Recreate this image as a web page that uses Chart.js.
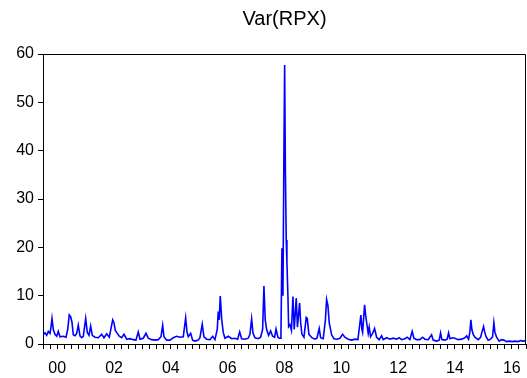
<!DOCTYPE html>
<html>
<head>
<meta charset="utf-8">
<script src="https://cdn.jsdelivr.net/npm/chart.js@4.4.1/dist/chart.umd.min.js"></script>
<style>
  html, body { margin: 0; padding: 0; background: #fff; }
  #wrap { width: 527px; height: 378px; position: relative; }
</style>
</head>
<body>
<div id="wrap"><canvas id="c" width="527" height="378"></canvas></div>
<script>
const chartTitle = "Var(RPX)";
const yTicks = [0, 10, 20, 30, 40, 50, 60];
const xTickLabels = ["00", "02", "04", "06", "08", "10", "12", "14", "16"];

// observation times in fractional years since 2000
const times = [
  0.011, 0.070, 0.130, 0.186, 0.246, 0.281, 0.317, 0.362, 0.422, 0.482,
  0.538, 0.598, 0.714, 0.809, 0.869, 0.925, 0.975, 1.020, 1.066, 1.126,
  1.186, 1.242, 1.302, 1.362, 1.418, 1.502, 1.559, 1.619, 1.678, 1.735,
  1.830, 1.946, 2.065, 2.146, 2.241, 2.333, 2.403, 2.452, 2.498, 2.544,
  2.614, 2.685, 2.769, 2.850, 2.945, 3.061, 3.177, 3.272, 3.353, 3.413,
  3.529, 3.624, 3.705, 3.825, 3.941, 4.057, 4.152, 4.212, 4.257, 4.352,
  4.469, 4.585, 4.704, 4.820, 4.937, 5.021, 5.067, 5.113, 5.197, 5.267,
  5.348, 5.464, 5.524, 5.605, 5.665, 5.760, 5.876, 5.971, 6.052, 6.133,
  6.168, 6.203, 6.239, 6.288, 6.344, 6.404, 6.520, 6.640, 6.756, 6.851,
  6.921, 6.992, 7.108, 7.224, 7.284, 7.343, 7.389, 7.459, 7.576, 7.660,
  7.730, 7.776, 7.822, 7.871, 7.942, 8.012, 8.082, 8.153, 8.202, 8.269,
  8.315, 8.374, 8.409, 8.445, 8.480, 8.505, 8.533, 8.561, 8.585, 8.621,
  8.645, 8.691, 8.744, 8.797, 8.842, 8.913, 8.955, 9.032, 9.067, 9.113,
  9.184, 9.265, 9.300, 9.359, 9.465, 9.571, 9.641, 9.722, 9.771, 9.863,
  9.940, 9.982, 10.028, 10.074, 10.158, 10.239, 10.345, 10.450, 10.545, 10.626,
  10.742, 10.862, 10.978, 11.084, 11.189, 11.224, 11.249, 11.319, 11.355, 11.390,
  11.446, 11.481, 11.530, 11.601, 11.671, 11.742, 11.833, 11.918, 11.974, 12.094,
  12.210, 12.326, 12.445, 12.537, 12.621, 12.737, 12.818, 12.913, 12.994, 13.054,
  13.149, 13.265, 13.360, 13.441, 13.557, 13.677, 13.733, 13.853, 13.944, 13.994,
  14.039, 14.145, 14.226, 14.275, 14.321, 14.416, 14.497, 14.613, 14.733, 14.849,
  14.909, 14.979, 15.025, 15.060, 15.095, 15.141, 15.201, 15.317, 15.401, 15.447,
  15.507, 15.542, 15.588, 15.669, 15.753, 15.823, 15.869, 15.904, 15.964, 16.055,
  16.140, 16.221, 16.316, 16.407, 16.527, 16.608, 16.724, 16.808, 16.900, 16.984
];

const variance = [
  1.9, 2.3, 1.8, 2.6, 2.2, 3.5, 5.3, 3.0, 2.0, 1.6,
  2.6, 1.5, 1.6, 1.4, 3.0, 6.0, 5.6, 4.5, 1.9, 1.7,
  2.2, 3.9, 1.7, 1.3, 1.6, 5.3, 2.4, 1.8, 3.7, 1.8,
  1.4, 1.3, 2.0, 1.3, 2.1, 1.4, 3.5, 5.0, 4.4, 2.8,
  2.2, 1.6, 1.3, 2.0, 1.0, 1.1, 0.9, 0.8, 2.5, 1.0,
  1.2, 2.2, 1.2, 0.9, 0.8, 0.9, 1.5, 3.9, 1.5, 0.8,
  0.8, 1.3, 1.6, 1.4, 1.5, 5.4, 2.5, 1.5, 2.2, 0.8,
  0.6, 0.8, 1.3, 4.1, 1.5, 1.0, 0.9, 1.6, 0.9, 3.0,
  6.7, 5.0, 9.9, 5.2, 2.4, 1.2, 1.6, 1.1, 1.2, 1.0,
  2.5, 1.1, 1.0, 1.2, 2.0, 5.2, 2.3, 1.3, 1.1, 1.4,
  3.0, 12.0, 5.0, 3.0, 1.8, 2.7, 1.6, 1.4, 3.1, 1.4,
  1.2, 1.2, 19.8, 10.0, 40.0, 57.7, 35.0, 21.5, 17.0, 9.8,
  3.6, 4.0, 2.8, 9.8, 3.0, 9.5, 3.5, 8.5, 4.5, 2.0,
  1.4, 5.5, 5.3, 2.0, 1.3, 1.0, 1.2, 3.2, 1.3, 1.1,
  5.0, 9.2, 8.0, 4.4, 1.9, 1.1, 1.0, 1.2, 2.0, 1.4,
  1.0, 0.8, 1.0, 0.9, 6.0, 3.0, 2.4, 8.1, 6.0, 4.5,
  2.2, 3.5, 1.5, 2.2, 3.2, 1.4, 0.9, 1.7, 0.9, 1.3,
  1.0, 1.2, 1.0, 1.3, 0.9, 1.1, 1.4, 0.9, 2.6, 1.2,
  0.9, 0.9, 1.4, 1.0, 0.9, 1.9, 0.8, 0.6, 0.8, 2.3,
  0.9, 0.8, 1.0, 2.3, 1.1, 1.3, 1.2, 0.9, 1.0, 1.3,
  1.7, 1.0, 2.5, 5.0, 3.0, 2.0, 1.4, 0.9, 1.4, 2.4,
  3.6, 2.6, 1.6, 0.8, 1.0, 1.5, 4.4, 2.5, 1.4, 0.6,
  0.9, 0.8, 0.5, 0.6, 0.5, 0.6, 0.5, 0.7, 0.6, 0.7
];

const startYear = 2000;
const endYear = 2017;

const frame = {
  id: 'frame',
  afterDraw(chart) {
    const { ctx, chartArea: a } = chart;
    ctx.save();
    ctx.strokeStyle = '#000';
    ctx.lineWidth = 1;
    ctx.beginPath();
    ctx.moveTo(a.left, a.top + 0.5);
    ctx.lineTo(a.right - 0.5, a.top + 0.5);
    ctx.lineTo(a.right - 0.5, a.bottom);
    ctx.stroke();
    ctx.restore();
  }
};

const titlePlugin = {
  id: 'ttl',
  afterDraw(chart) {
    const { ctx, chartArea: a } = chart;
    ctx.save();
    ctx.fillStyle = '#000';
    ctx.font = '20px "Liberation Sans", Arial, sans-serif';
    ctx.textAlign = 'center';
    ctx.textBaseline = 'alphabetic';
    ctx.fillText(chartTitle, (a.left + a.right) / 2, 25);
    ctx.restore();
  }
};

const pts = times.map((t, i) => ({ x: startYear + t, y: variance[i] }));

new Chart(document.getElementById('c'), {
  type: 'line',
  data: {
    datasets: [{
      data: pts,
      borderColor: '#0000FF',
      borderWidth: 1.6,
      pointRadius: 0,
      tension: 0,
      fill: false
    }]
  },
  options: {
    responsive: false,
    animation: false,
    events: [],
    layout: { padding: { left: 0, right: 1, top: 54, bottom: 0 } },
    plugins: { legend: { display: false }, tooltip: { enabled: false }, title: { display: false } },
    scales: {
      x: {
        type: 'linear',
        min: startYear,
        max: endYear,
        afterFit(s) { s.height = 34; s.paddingLeft = 0; s.paddingRight = 0; },
        afterBuildTicks(s) {
          const t = [];
          for (let q = startYear * 4; q <= endYear * 4; q++) t.push({ value: q / 4 });
          s.ticks = t;
        },
        ticks: {
          autoSkip: false,
          maxRotation: 0,
          padding: 10,
          color: '#000',
          font: { family: '"Liberation Sans", Arial, sans-serif', size: 16 },
          callback(v) {
            const y = Math.floor(v + 1e-9);
            if (Math.abs(v - y - 0.5) < 1e-6) {
              const lbl = String(y % 100).padStart(2, '0');
              return xTickLabels.includes(lbl) ? lbl : '';
            }
            return '';
          }
        },
        grid: { drawOnChartArea: false, drawTicks: true, tickLength: 5, color: '#000' },
        border: { display: true, color: '#000', width: 1 }
      },
      y: {
        min: yTicks[0],
        max: yTicks[yTicks.length - 1],
        afterFit(s) { s.width = 43; s.paddingTop = 0; s.paddingBottom = 0; },
        afterBuildTicks(s) { s.ticks = yTicks.map(v => ({ value: v })); },
        ticks: {
          padding: 4,
          color: '#000',
          font: { family: '"Liberation Sans", Arial, sans-serif', size: 16 }
        },
        grid: { drawOnChartArea: false, drawTicks: true, tickLength: 5, color: '#000' },
        border: { display: true, color: '#000', width: 1 }
      }
    }
  },
  plugins: [frame, titlePlugin]
});
</script>
</body>
</html>
